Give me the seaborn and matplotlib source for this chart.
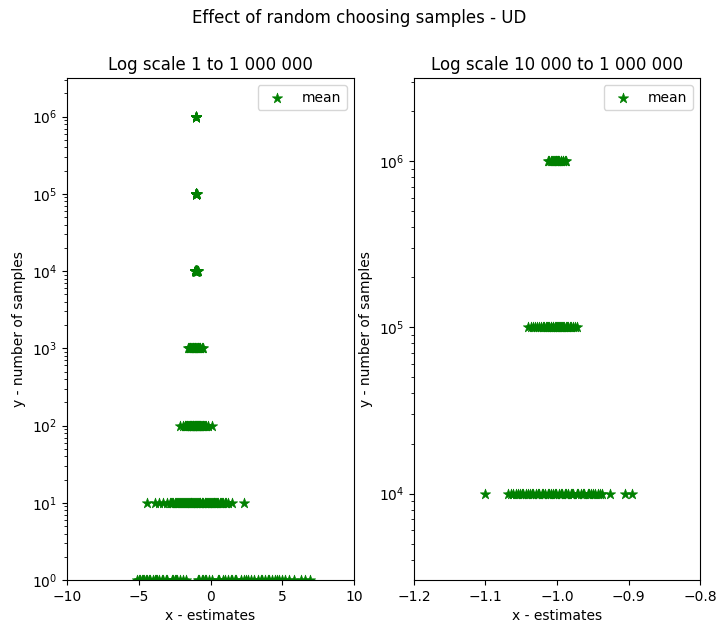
import matplotlib
matplotlib.use("Agg")
import matplotlib.pyplot as plt
import seaborn as sns
import pandas as pd

# number of samples levels
levels = [1, 10, 100, 1000, 10000, 100000, 1000000]

x_n1 = [-5.1, -5.0, -4.9, -4.8, -4.7, -4.6, -4.5, -4.4, -4.3, -4.2, -4.0, -3.9, -3.8,
        -3.7, -3.6, -3.4, -3.3, -3.1, -3.0, -2.7, -2.6, -2.5, -2.4, -2.3, -2.1, -1.9,
        -1.7, -0.9, -0.8, -0.6, -0.5, -0.4, -0.3, -0.1, 0.1, 0.5, 0.6, 0.9, 1.0, 1.2,
        1.4, 1.5, 1.7, 1.8, 2.1, 2.3, 2.5, 2.6, 2.8, 3.0, 3.3, 3.5, 3.6, 3.8, 4.0, 4.1,
        4.3, 4.5, 4.6, 4.8, 5.0, 5.2, 5.5, 5.8, 6.3, 6.6, 6.9]
x_n10 = [-4.4, -3.9, -3.6, -3.3, -3.0, -2.8, -2.73, -2.65, -2.58, -2.5, -2.42, -2.35,
         -2.27, -2.2, -2.12, -2.05, -1.97, -1.9, -1.82, -1.76, -1.7, -1.63, -1.57, -1.5,
         -1.42, -1.37, -1.33, -1.26, -1.2, -1.12, -1.06, -1.0, -0.93, -0.87, -0.81, -0.75,
         -0.7, -0.62, -0.56, -0.5, -0.41, -0.35, -0.3, -0.22, -0.15, -0.1, -0.03, 0.02,
         0.1, 0.16, 0.21, 0.27, 0.33, 0.4, 0.46, 0.52, 0.63, 0.7, 0.8, 0.9, 1.0, 1.1,
         1.2, 1.5, 2.3]
x_n100 = [-2.1, -1.9, -1.8, -1.75, -1.7, -1.66, -1.62, -1.55, -1.5, -1.45, -1.41, -1.38,
          -1.33, -1.3, -1.25, -1.22, -1.2, -1.14, -1.1, -1.07, -1.04, -1.0, -0.96, -0.93,
          -0.9, -0.84, -0.81, -0.78, -0.74, -0.7, -0.65, -0.6, -0.55, -0.5, -0.45, -0.4,
          -0.3, -0.2, 0.1]
x_n1000 = [-1.6, -1.5, -1.45, -1.4, -1.35, -1.3, -1.25, -1.2, -1.15, -1.1, -1.05, -1.0,
           -0.95, -0.9, -0.85, -0.8, -0.75, -0.7, -0.6, -0.5]
x_n1e4 = [-1.100, -1.068, -1.065, -1.062, -1.058, -1.055, -1.052, -1.049, -1.047, -1.043,
          -1.040, -1.038, -1.035, -1.033, -1.029, -1.027, -1.025, -1.021, -1.019, -1.017,
          -1.013, -1.011, -1.009, -1.005, -1.003, -1.001, -0.997, -0.995, -0.993, -0.989,
          -0.987, -0.985, -0.981, -0.979, -0.977, -0.972, -0.970, -0.967, -0.964, -0.962,
          -0.957, -0.955, -0.952, -0.949, -0.947, -0.942, -0.940, -0.937, -0.926, -0.905,
          -0.895]
x_n1e5 = [-1.041, -1.037, -1.034, -1.031, -1.028, -1.025, -1.022, -1.020, -1.018, -1.016,
          -1.014, -1.012, -1.011, -1.009, -1.008, -1.006, -1.005, -1.003, -1.002, -1.000,
          -0.999, -0.997, -0.996, -0.994, -0.993, -0.991, -0.990, -0.988, -0.986, -0.984,
          -0.982, -0.980, -0.977, -0.975, -0.972]
x_n1e6 = [-1.013, -1.011, -1.009, -1.007, -1.006, -1.004, -1.003, -1.002, -1.001, -1.000,
          -0.999, -0.998, -0.997, -0.995, -0.994, -0.992, -0.991, -0.989, -0.987]

all_x = [x_n1, x_n10, x_n100, x_n1000, x_n1e4, x_n1e5, x_n1e6]
rows = []
for lv, xs in zip(levels, all_x):
    for v in xs:
        rows.append({"x": v, "y": lv})
df = pd.DataFrame(rows)
df_right = df[df["y"] >= 10000]

fig = plt.figure(figsize=(7.18, 6.23), dpi=100)
ax1 = fig.add_axes([67/718, 1-580/623, (354-67)/718, (580-78)/623])
ax2 = fig.add_axes([414/718, 1-580/623, (700-414)/718, (580-78)/623])

for ax, d in ((ax1, df), (ax2, df_right)):
    sns.scatterplot(data=d, x="x", y="y", marker="*", color="green", s=60,
                    edgecolor="green", linewidth=0.5, label="mean", ax=ax)
    ax.set_yscale("log")
    ax.set_xlabel("x - estimates")
    ax.set_ylabel("y - number of samples")
    ax.legend(loc="upper right")

ax1.set_xlim(-10, 10)
ax1.set_ylim(1, 10**6.5)
ax1.set_xticks([-10, -5, 0, 5, 10])
ax1.set_title("Log scale 1 to 1 000 000")

ax2.set_xlim(-1.2, -0.8)
ax2.set_ylim(10**3.48, 10**6.5)
ax2.set_xticks([-1.2, -1.1, -1.0, -0.9, -0.8])
ax2.set_title("Log scale 10 000 to 1 000 000")

fig.suptitle("Effect of random choosing samples - UD", y=0.985)
fig.savefig("out.png", dpi=100)
